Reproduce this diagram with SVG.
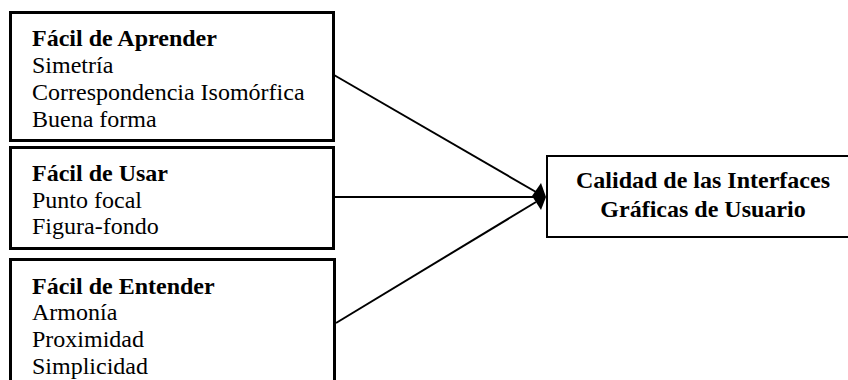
<svg xmlns="http://www.w3.org/2000/svg" width="848" height="380" viewBox="0 0 848 380">
<style>
.box{fill:#fff;stroke:#000;stroke-width:3}
.box2{fill:#fff;stroke:#000;stroke-width:2}
.t{font-family:'Liberation Serif','Times New Roman',Times,serif;font-size:24px;fill:#000}
.b{font-weight:bold}
.c{text-anchor:middle}
.ln{stroke:#000;stroke-width:2;fill:none}
</style>
<rect width="848" height="380" fill="#fff"/>
<g id="connectors">
<line class="ln" x1="334" y1="75" x2="536" y2="192"/>
<line class="ln" x1="335" y1="197" x2="536" y2="197"/>
<line class="ln" x1="336" y1="323" x2="536" y2="202"/>
<polygon points="532,196 541,183 546,197 541,210" fill="#000"/>
</g>
<g id="node-aprender">
<rect class="box" x="10.5" y="12.5" width="323" height="128"/>
<text class="t b" x="32" y="45.5">Fácil de Aprender</text>
<text class="t" x="32" y="72.5">Simetría</text>
<text class="t" x="32" y="99.5">Correspondencia Isomórfica</text>
<text class="t" x="32" y="126.5">Buena forma</text>
</g>
<g id="node-usar">
<rect class="box" x="10.5" y="147.5" width="323" height="101"/>
<text class="t b" x="32" y="181">Fácil de Usar</text>
<text class="t" x="32" y="207.5">Punto focal</text>
<text class="t" x="32" y="234">Figura-fondo</text>
</g>
<g id="node-entender">
<rect class="box" x="10.5" y="259.5" width="324" height="130"/>
<text class="t b" x="32" y="293.5">Fácil de Entender</text>
<text class="t" x="32" y="320">Armonía</text>
<text class="t" x="32" y="346.5">Proximidad</text>
<text class="t" x="32" y="373.5">Simplicidad</text>
</g>
<g id="node-calidad">
<rect class="box2" x="547" y="156" width="305" height="81"/>
<text class="t b c" x="703" y="188">Calidad de las Interfaces</text>
<text class="t b c" x="703" y="217">Gráficas de Usuario</text>
</g>
</svg>
